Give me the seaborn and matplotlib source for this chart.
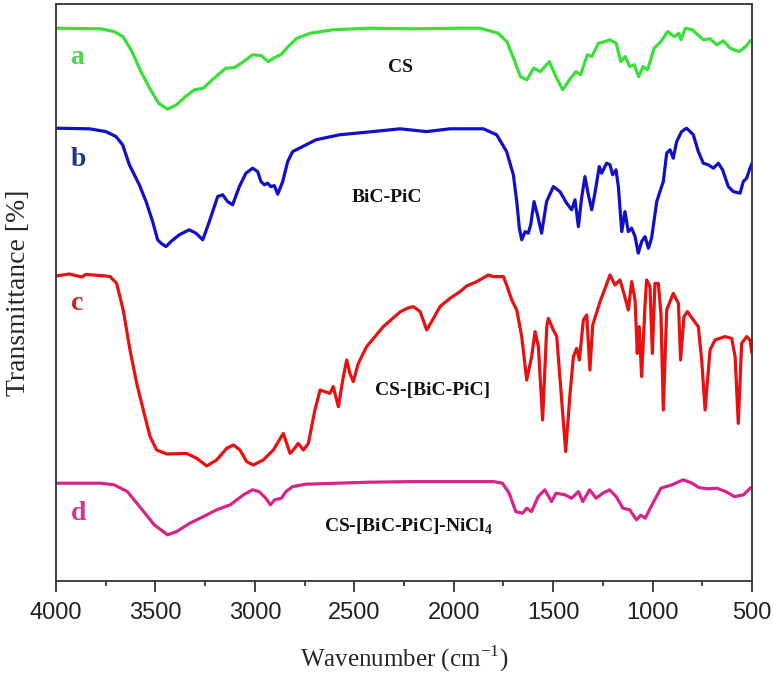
import matplotlib
matplotlib.use("Agg")
import matplotlib.pyplot as plt
import seaborn as sns
from matplotlib.ticker import MultipleLocator

# FTIR spectra (wavenumber in cm-1, transmittance in %)
wn_cs = [4000, 3776, 3708, 3663, 3618, 3573, 3529, 3484, 3439, 3394, 3349, 3304, 3259, 3214, 3147,
         3102, 3057, 3012, 2967, 2934, 2900, 2866, 2833, 2788, 2720, 2608, 2429, 2204, 1980, 1867,
         1777, 1733, 1699, 1665, 1632, 1598, 1564, 1519, 1486, 1452, 1418, 1385, 1362, 1328, 1306,
         1272, 1239, 1216, 1183, 1160, 1138, 1115, 1093, 1070, 1048, 1025, 992, 958, 924, 891,
         868, 857, 835, 801, 745, 711, 677, 644, 610, 565, 532, 509, 500]
t_cs = [100, 99.7, 98.3, 95.8, 88.3, 78.3, 70, 62.5, 59.5, 61.7, 65.8, 69.2, 70, 74.2, 80,
        80.3, 83.3, 86.7, 86.3, 83.3, 85.3, 87, 90.8, 95, 97.5, 99.2, 100, 99.7, 100, 100,
        97.5, 93.3, 85, 75.8, 74.2, 80, 78.3, 83.3, 75.8, 69.2, 74.2, 78.3, 76.7, 86.7, 85.8,
        92.5, 93.3, 94.2, 92.5, 83.3, 85.8, 80.8, 81.7, 75.8, 80.8, 79.2, 90, 93.3, 98.3, 95.8,
        97.5, 94.2, 100, 99.2, 94.2, 94.7, 91.7, 93.7, 90, 88.3, 90.8, 93.7, 94]

wn_bic = [4000, 3832, 3749, 3698, 3665, 3631, 3581, 3547, 3514, 3489, 3472, 3447, 3422, 3380, 3330,
          3296, 3262, 3229, 3187, 3162, 3137, 3112, 3078, 3045, 3011, 2986, 2969, 2952, 2936, 2919,
          2902, 2885, 2860, 2835, 2810, 2760, 2693, 2575, 2408, 2270, 2136, 2019, 1851, 1784, 1734,
          1700, 1683, 1670, 1658, 1641, 1625, 1613, 1596, 1579, 1558, 1533, 1499, 1466, 1432, 1407,
          1390, 1373, 1357, 1340, 1323, 1306, 1290, 1268, 1256, 1244, 1231, 1214, 1201, 1184, 1172,
          1155, 1139, 1122, 1105, 1088, 1072, 1055, 1038, 1021, 1005, 979, 963, 946, 929, 912,
          896, 879, 854, 829, 795, 770, 745, 720, 694, 669, 648, 619, 594, 560, 544,
          527, 510, 500]
t_bic = [100, 99.7, 98.3, 95.8, 91.7, 81.7, 71.7, 63.3, 53.3, 44.2, 42.5, 40.8, 43.3, 46.7, 49.2,
         47.5, 44.2, 53.3, 65.8, 66.7, 63.3, 61.7, 70.8, 77.5, 80, 78.3, 73.3, 71.7, 72.5, 70.8,
         71.3, 67, 73.3, 83.3, 88.3, 90.8, 94.2, 96.7, 98.3, 99.7, 98.3, 99.7, 99.7, 96.7, 88.3,
         76.7, 63.3, 50, 44.2, 48.3, 47.5, 51.7, 63.3, 56.7, 47.5, 63.3, 70.8, 68.3, 62.5, 59.2,
         64.2, 50.8, 65, 75.8, 66.7, 59.2, 67.5, 80.8, 77.5, 80, 82.5, 81.7, 76.7, 79.2, 70.8,
         48.3, 58.3, 48.3, 50, 45.8, 37.5, 43.3, 45.8, 40, 45, 63.3, 68.3, 73.3, 87.5, 89.2,
         85, 93.3, 98.3, 100, 96.7, 88.3, 82.5, 81.7, 80, 82.5, 79.2, 70.8, 68.3, 67.5, 73.3,
         75, 80, 82.5]

wn_csbic = [4000, 3933, 3870, 3850, 3750, 3728, 3695, 3662, 3628, 3594, 3561, 3527, 3494, 3443, 3343,
            3292, 3242, 3192, 3142, 3108, 3075, 3041, 3008, 2958, 2907, 2857, 2823, 2807, 2782, 2756,
            2731, 2698, 2672, 2622, 2606, 2580, 2555, 2538, 2522, 2505, 2480, 2438, 2354, 2270, 2236,
            2203, 2169, 2136, 2111, 2069, 2019, 1968, 1935, 1884, 1826, 1801, 1750, 1734, 1708, 1683,
            1658, 1633, 1608, 1591, 1574, 1553, 1532, 1524, 1499, 1482, 1465, 1437, 1415, 1398, 1382,
            1368, 1348, 1331, 1315, 1301, 1264, 1239, 1214, 1189, 1164, 1144, 1122, 1105, 1088, 1077,
            1067, 1055, 1038, 1030, 1013, 1001, 988, 971, 958, 946, 929, 896, 870, 859, 842,
            825, 795, 770, 753, 736, 711, 686, 636, 602, 585, 569, 552, 527, 510, 500]
t_csbic = [99.5, 100.5, 99, 100.3, 99.5, 99.2, 95.8, 82.5, 62.5, 45.8, 32.5, 19.2, 12.5, 10.5, 10.8,
           8.3, 4.5, 7.5, 13.3, 15, 12.5, 6.7, 5, 7.5, 12.5, 20.8, 10.8, 12.5, 15.8, 12.5,
           15.8, 32.5, 42.5, 40.8, 44.2, 34.2, 49.2, 57.5, 50.8, 46.7, 55.8, 64.2, 74.2, 81.5, 83.3,
           84.2, 81.7, 72.5, 76.7, 84.2, 88.3, 91.7, 94.5, 96.7, 100, 99.2, 99.2, 95, 87.5, 82.5,
           69.2, 47.5, 59.2, 71.7, 64.2, 27.5, 74.2, 78.3, 72.5, 69.2, 47.5, 11.7, 40.8, 59.2, 63.3,
           57.5, 77.5, 80, 52.5, 75, 86.7, 93.3, 100, 95, 97.5, 90.8, 82.5, 96.7, 87.5, 60.8,
           74.2, 49.2, 85, 97.5, 94.2, 60.8, 95.8, 95.8, 80.8, 32.5, 82.5, 90.8, 85.8, 57.5, 79.2,
           81.7, 77.5, 74.2, 57.5, 32.5, 62.5, 67.5, 69.2, 68.3, 59.2, 25.8, 65.8, 69.2, 67.5, 60.8]

wn_ni = [4000, 3776, 3708, 3641, 3573, 3506, 3439, 3394, 3327, 3259, 3192, 3124, 3057, 3012, 2979,
         2945, 2922, 2900, 2866, 2844, 2810, 2743, 2429, 2204, 1800, 1755, 1721, 1688, 1654, 1632,
         1609, 1575, 1542, 1508, 1486, 1441, 1407, 1373, 1351, 1317, 1284, 1250, 1216, 1183, 1149,
         1115, 1081, 1059, 1037, 1003, 958, 902, 846, 801, 767, 722, 677, 632, 588, 543,
         509, 500]
t_ni = [99.5, 99.5, 98.7, 95.3, 87, 78.7, 73.7, 75.3, 79.5, 82.8, 86.2, 88.7, 93.7, 96.2, 95.3,
        92, 88.7, 91.2, 92, 95.3, 97.8, 99, 100, 100.3, 100.3, 99.5, 94.5, 85.3, 84.5, 87,
        85.3, 92.8, 96.2, 90.3, 94.5, 93.7, 92, 95.3, 90.3, 96.2, 92, 94.5, 96.2, 92.8, 87,
        86.2, 81.2, 83.5, 82, 88.7, 97, 98.7, 101.2, 99.5, 97.3, 96.7, 97, 95.3, 92.8, 93.7,
        97, 97.5]

sample_names = ["CS", "BiC-PiC", "CS-[BiC-PiC]", r"CS-[BiC-PiC]-NiCl$_\mathbf{4}$"]
letters = ["a", "b", "c", "d"]

# stacking offsets and colours
offsets = [176.4, 126.4, 53, -50.6]
line_colors = ["#38e038", "#1010c8", "#e81010", "#d8248a"]
letter_colors = ["#4cd24c", "#1f3592", "#cc2424", "#d2388a"]
name_pos = [(2270, 257), (2336, 192), (2104, 95.5), (2225, 27)]
letter_pos = [(3892, 261.5), (3889, 210.5), (3894, 139), (3884, 34)]

sns.set_style("ticks")
plt.rcParams["font.family"] = ["Liberation Serif", "DejaVu Serif"]
plt.rcParams["mathtext.fontset"] = "custom"
plt.rcParams["mathtext.rm"] = "Liberation Serif"
plt.rcParams["mathtext.bf"] = "Liberation Serif:bold"

fig = plt.figure(figsize=(7.74, 6.74), dpi=100)
ax = fig.add_axes([56 / 774, 93 / 674, 696 / 774, 577 / 674])

series = [(wn_cs, t_cs), (wn_bic, t_bic), (wn_csbic, t_csbic), (wn_ni, t_ni)]
for (wn, t), off, col in zip(series, offsets, line_colors):
    sns.lineplot(x=wn, y=[v + off for v in t], ax=ax, color=col, lw=2.3,
                 sort=False, estimator=None)

for name, (x, y) in zip(sample_names, name_pos):
    ax.text(x, y, name, ha="center", va="center", fontsize=14, fontweight="bold", color="#111111")
for lt, (x, y), col in zip(letters, letter_pos, letter_colors):
    ax.text(x, y, lt, ha="center", va="center", fontsize=20, fontweight="bold", color=col)

ax.set_xlim(4000, 500)
ax.set_ylim(0, 288.5)
ax.set_yticks([])
ax.xaxis.set_major_locator(MultipleLocator(500))
ax.xaxis.set_minor_locator(MultipleLocator(250))
ax.tick_params(axis="x", which="major", length=8, width=1.2, direction="out", pad=7,
               labelsize=17, colors="#222222")
ax.tick_params(axis="x", which="minor", length=3.5, width=1.2, direction="out")
for lab in ax.get_xticklabels():
    lab.set_family(["Liberation Sans Narrow", "Liberation Sans", "DejaVu Sans"])
for sp in ax.spines.values():
    sp.set_linewidth(1.3)
    sp.set_color("#333333")

ax.set_xlabel("Wavenumber (cm$^{-1}$)", fontsize=18, labelpad=14)
ax.set_ylabel("Transmittance [%]", fontsize=20, labelpad=18)

fig.savefig("out.png", dpi=100)
